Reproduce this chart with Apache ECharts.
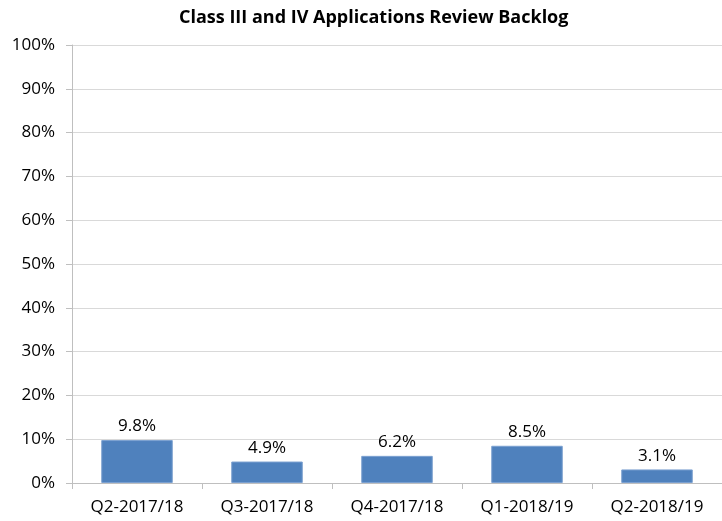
<!DOCTYPE html>
<html>
<head>
<meta charset="utf-8">
<script src="https://cdn.jsdelivr.net/npm/echarts@6/dist/echarts.min.js"></script>
<style>
  html, body { margin: 0; padding: 0; background: #fff; }
  #chart { width: 722px; height: 521px; }
</style>
</head>
<body>
<div id="chart"></div>
<script>
// quarters on the x axis
var quarters = ['Q2-2017/18', 'Q3-2017/18', 'Q4-2017/18', 'Q1-2018/19', 'Q2-2018/19']
// backlog in percent
var backlog = [9.8, 4.9, 6.2, 8.5, 3.1]

var chart = echarts.init(document.getElementById('chart'))
chart.setOption({
  animation: false,
  title: {
    text: 'Class III and IV Applications Review Backlog',
    left: 174,
    top: 4,
    textStyle: {
      fontFamily: 'Open Sans',
      fontSize: 18,
      fontWeight: 'bold',
      color: '#000'
    }
  },
  grid: {
    left: 72,
    right: -7,
    top: 45,
    bottom: 38
  },
  xAxis: {
    type: 'category',
    data: quarters,
    axisLine: { lineStyle: { color: '#bfbfbf' } },
    axisTick: { show: true, length: 6, lineStyle: { color: '#bfbfbf' } },
    axisLabel: {
      fontFamily: 'Open Sans',
      fontSize: 17,
      color: '#000',
      margin: 16
    }
  },
  yAxis: {
    type: 'value',
    min: 0,
    max: 100,
    interval: 10,
    axisLine: { show: true, lineStyle: { color: '#bfbfbf' } },
    axisTick: { show: true, length: 6, lineStyle: { color: '#bfbfbf' } },
    splitLine: { lineStyle: { color: '#d9d9d9' } },
    axisLabel: {
      fontFamily: 'Open Sans',
      fontSize: 17,
      color: '#000',
      margin: 17,
      formatter: '{value}%'
    }
  },
  series: [
    {
      type: 'bar',
      data: backlog,
      barWidth: '55%',
      itemStyle: {
        color: '#4f81bd',
        borderColor: '#7ba0d0',
        borderWidth: 1
      },
      label: {
        show: true,
        position: 'top',
        distance: 5,
        fontFamily: 'Open Sans',
        fontSize: 17,
        color: '#000',
        formatter: function (p) { return p.value.toFixed(1) + '%' }
      }
    }
  ]
})
</script>
</body>
</html>
